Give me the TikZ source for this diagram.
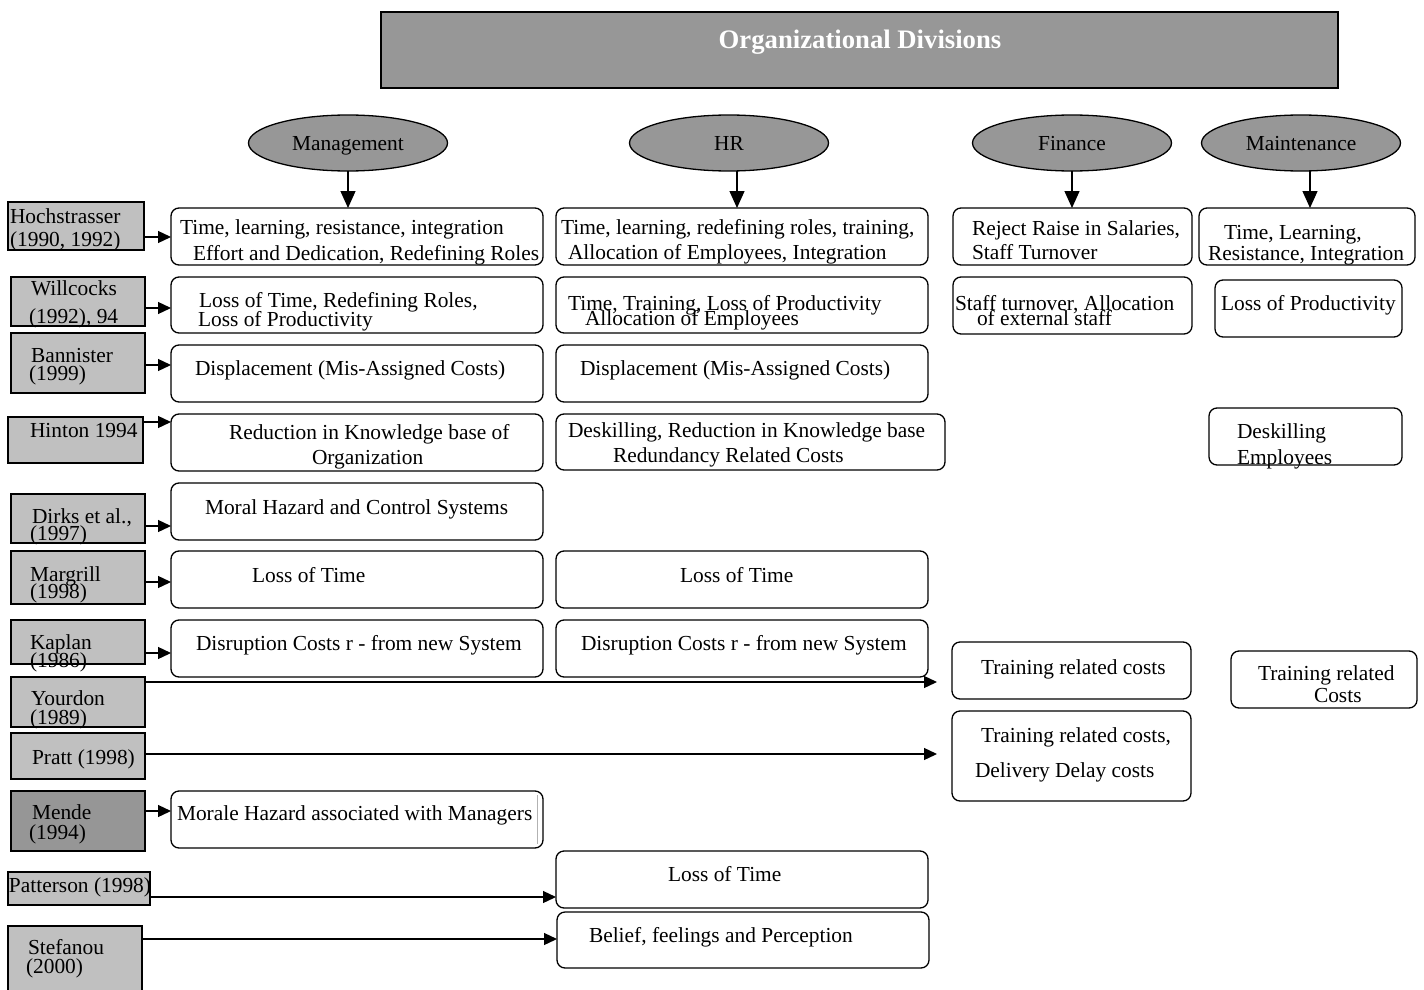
\documentclass[tikz,border=0pt]{standalone}
\usepackage{fontspec}
\setmainfont{Liberation Serif}
\usetikzlibrary{arrows.meta,shapes.geometric,fit}
\definecolor{srcgray}{HTML}{C0C0C0}
\definecolor{divgray}{HTML}{979797}
\definecolor{mendgray}{HTML}{969696}
\begin{document}
\begin{tikzpicture}[x=1pt,y=-1pt,
  every node/.style={inner sep=0pt,outer sep=0pt},
  box/.style={draw=black,line width=1.3pt,rounded corners=8pt,fill=white},
  src/.style={draw=black,line width=1.3pt,fill=srcgray},
  div/.style={ellipse,draw=black,line width=1.3pt,fill=divgray,minimum width=199pt,minimum height=56pt,font=\fontsize{21.4}{24}\selectfont,text depth=0pt},
  arrD/.style={line width=1.3pt,-{Triangle[length=17pt,width=15pt]}},
  arrL/.style={line width=1.3pt,-{Triangle[length=13pt,width=12pt]}},
  lbl/.style={anchor=mid west,yshift=-5pt,font=\fontsize{21.4}{24}\selectfont},
]
\useasboundingbox (0,0) rectangle (1424,990);
\fill[white] (0,0) rectangle (1424,990);

% title
\node[draw=black,line width=1.5pt,fill=divgray,fit={(381,12) (1338,88)}] (title) {};
\node[anchor=mid,yshift=-6pt,text=white,font=\bfseries\fontsize{26.7}{30}\selectfont] (titletext) at (860,40) {Organizational Divisions};

% divisions
\node[div] (mgmt) at (348,143) {Management};
\node[div] (hr) at (729,143) {HR};
\node[div] (fin) at (1072,143) {Finance};
\node[div] (mnt) at (1301,143) {Maintenance};

% cost boxes
\node[box,fit={(171,208) (543,265)}] (m1) {};
\node[box,fit={(556,208) (928,265)}] (h1) {};
\node[box,fit={(953,208) (1192,265)}] (f1) {};
\node[box,fit={(1199,208) (1415,265)}] (x1) {};
\node[box,fit={(171,277) (543,333)}] (m2) {};
\node[box,fit={(556,277) (928,333)}] (h2) {};
\node[box,fit={(953,277) (1192,334)}] (f2) {};
\node[box,fit={(1215,280) (1402,337)}] (x2) {};
\node[box,fit={(171,345) (543,402)}] (m3) {};
\node[box,fit={(556,345) (928,402)}] (h3) {};
\node[box,fit={(171,414) (543,471)}] (m4) {};
\node[box,fit={(556,414) (945,470)}] (h4) {};
\node[box,fit={(1209,408) (1402,465)}] (x4) {};
\node[box,fit={(171,483) (543,540)}] (m5) {};
\node[box,fit={(171,551) (543,608)}] (m6) {};
\node[box,fit={(556,551) (928,608)}] (h6) {};
\node[box,fit={(171,620) (543,677)}] (m7) {};
\node[box,fit={(556,620) (928,677)}] (h7) {};
\node[box,fit={(952,642) (1191,699)}] (f8) {};
\node[box,fit={(1231,651) (1417,708)}] (x8) {};
\node[box,fit={(952,711) (1191,801)}] (f9) {};
\node[box,fit={(171,791) (543,848)}] (m10) {};
\draw[gray!60,line width=1pt] (537,795) -- (537,844);
\node[box,fit={(556,851) (928,908)}] (h11) {};
\node[box,fit={(557,912) (929,968)}] (h12) {};

% source boxes
\node[src,line width=2.4pt,fit={(8,202) (144,250)}] (hoch) {};
\node[src,fit={(11,277) (145,326)}] (will) {};
\node[src,fit={(11,333) (145,393)}] (bann) {};
\node[src,fit={(8,417) (143,463)}] (hint) {};
\node[src,fit={(11,494) (145,543)}] (dirk) {};
\node[src,fit={(11,551) (145,604)}] (marg) {};
\node[src,fit={(11,620) (145,664)}] (kapl) {};
\node[src,fit={(11,677) (145,727)}] (your) {};
\node[src,fit={(11,733) (145,779)}] (prat) {};
\node[src,fill=mendgray,fit={(11,791) (145,851)}] (mend) {};
\node[src,fit={(8,872) (150,905)}] (patt) {};
\node[src,fit={(8,926) (142,1000)}] (stef) {};

% source labels
\node[lbl] (hocha) at (10,216) {Hochstrasser};
\node[lbl] (hochb) at (10,239) {(1990, 1992)};
\node[lbl] (willa) at (31,288) {Willcocks};
\node[lbl] (willb) at (29,316) {(1992), 94};
\node[lbl] (banna) at (31,355) {Bannister};
\node[lbl] (bannb) at (29,373) {(1999)};
\node[lbl] (hinta) at (30,430) {Hinton 1994};
\node[lbl] (dirka) at (32,516) {Dirks et al.,};
\node[lbl] (dirkb) at (30,533) {(1997)};
\node[lbl] (marga) at (30,574) {Margrill};
\node[lbl] (margb) at (30,591) {(1998)};
\node[lbl] (kapla) at (30,642) {Kaplan};
\node[lbl] (kaplb) at (30,660) {(1986)};
\node[lbl] (youra) at (31,698) {Yourdon};
\node[lbl] (yourb) at (30,717) {(1989)};
\node[lbl] (prata) at (32,757) {Pratt (1998)};
\node[lbl] (menda) at (32,812) {Mende};
\node[lbl] (mendb) at (29,832) {(1994)};
\node[lbl] (patta) at (9,885) {Patterson (1998)};
\node[lbl] (stefa) at (28,947) {Stefanou};
\node[lbl] (stefb) at (26,966) {(2000)};

% cost labels
\node[lbl] (m1a) at (180,227) {Time, learning, resistance, integration};
\node[lbl] (m1b) at (193,253) {Effort and Dedication, Redefining Roles};
\node[lbl] (h1a) at (561,227) {Time, learning, redefining roles, training,};
\node[lbl] (h1b) at (568,252) {Allocation of Employees, Integration};
\node[lbl] (f1a) at (972,228) {Reject Raise in Salaries,};
\node[lbl] (f1b) at (972,252) {Staff Turnover};
\node[lbl] (x1a) at (1224,232) {Time, Learning,};
\node[lbl] (x1b) at (1208,253) {Resistance, Integration};
\node[lbl] (m2a) at (199,300) {Loss of Time, Redefining Roles,};
\node[lbl] (m2b) at (198,319) {Loss of Productivity};
\node[lbl] (h2a) at (568,303) {Time, Training, Loss of Productivity};
\node[lbl] (h2b) at (585,318) {Allocation of Employees};
\node[lbl] (f2a) at (955,303) {Staff turnover, Allocation};
\node[lbl] (f2b) at (977,318) {of external staff};
\node[lbl] (x2a) at (1221,303) {Loss of Productivity};
\node[lbl] (m3a) at (195,368) {Displacement (Mis-Assigned Costs)};
\node[lbl] (h3a) at (580,368) {Displacement (Mis-Assigned Costs)};
\node[lbl] (m4a) at (229,432) {Reduction in Knowledge base of};
\node[lbl] (m4b) at (312,457) {Organization};
\node[lbl] (h4a) at (568,430) {Deskilling, Reduction in Knowledge base};
\node[lbl] (h4b) at (613,455) {Redundancy Related Costs};
\node[lbl] (x4a) at (1237,431) {Deskilling};
\node[lbl] (x4b) at (1237,457) {Employees};
\node[lbl] (m5a) at (205,507) {Moral Hazard and Control Systems};
\node[lbl] (m6a) at (252,575) {Loss of Time};
\node[lbl] (h6a) at (680,575) {Loss of Time};
\node[lbl] (m7a) at (196,643) {Disruption Costs r - from new System};
\node[lbl] (h7a) at (581,643) {Disruption Costs r - from new System};
\node[lbl] (f8a) at (981,667) {Training related costs};
\node[lbl] (x8a) at (1258,673) {Training related};
\node[lbl] (x8b) at (1314,695) {Costs};
\node[lbl] (f9a) at (981,735) {Training related costs,};
\node[lbl] (f9b) at (975,770) {Delivery Delay costs};
\node[lbl] (m10a) at (177,813) {Morale Hazard associated with Managers};
\node[lbl] (h11a) at (668,874) {Loss of Time};
\node[lbl] (h12a) at (589,935) {Belief, feelings and Perception};

% division arrows
\draw[arrD] (mgmt.south) -- (mgmt.south |- m1.north);
\draw[arrD] ([xshift=8pt]hr.south) -- ([xshift=8pt]hr.south |- h1.north);
\draw[arrD] (fin.south) -- (fin.south |- f1.north);
\draw[arrD] ([xshift=9pt]mnt.south) -- ([xshift=9pt]mnt.south |- x1.north);

% source arrows
\draw[arrL] (hoch.east |- 0,237) -- (m1.west |- 0,237);
\draw[arrL] (will.east |- 0,308) -- (m2.west |- 0,308);
\draw[arrL] (bann.east |- 0,365) -- (m3.west |- 0,365);
\draw[arrL] (hint.east |- 0,422) -- (m4.west |- 0,422);
\draw[arrL] (dirk.east |- 0,526) -- (m5.west |- 0,526);
\draw[arrL] (marg.east |- 0,582) -- (m6.west |- 0,582);
\draw[arrL] (kapl.east |- 0,653) -- (m7.west |- 0,653);
\draw[arrL] (your.east |- 0,682) -- ([xshift=-15pt]f8.west |- 0,682);
\draw[arrL] (prat.east |- 0,754) -- ([xshift=-15pt]f9.west |- 0,754);
\draw[arrL] (mend.east |- 0,811) -- (m10.west |- 0,811);
\draw[arrL] (patt.east |- 0,897) -- (h11.west |- 0,897);
\draw[arrL] (stef.east |- 0,939) -- (h12.west |- 0,939);
\end{tikzpicture}
\end{document}
